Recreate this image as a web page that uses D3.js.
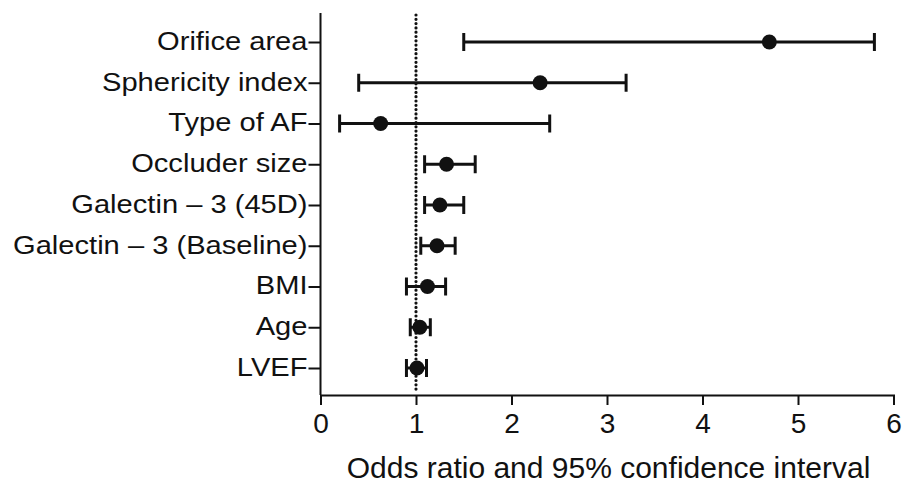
<!DOCTYPE html>
<html><head><meta charset="utf-8">
<script src="https://cdn.jsdelivr.net/npm/d3@7"></script>
<style>body{margin:0;background:#fff}svg{display:block}text{font-family:"Liberation Sans",Arial,sans-serif;fill:#111}</style>
</head><body>
<svg id="c" width="906" height="486"></svg>
<script>
const categories = ["Orifice area","Sphericity index","Type of AF","Occluder size","Galectin \u2013 3 (45D)","Galectin \u2013 3 (Baseline)","BMI","Age","LVEF"];
const oddsRatio = [4.7, 2.3, 0.63, 1.32, 1.25, 1.22, 1.12, 1.04, 1.01];
const ciLower   = [1.5, 0.4, 0.2, 1.09, 1.09, 1.05, 0.9, 0.94, 0.9];
const ciUpper   = [5.8, 3.2, 2.4, 1.62, 1.5, 1.41, 1.31, 1.15, 1.11];
const xTicks = [0,1,2,3,4,5,6];
const refValue = 1;
const xTitle = "Odds ratio and 95% confidence interval";

(function(){
const svg = d3.select("#c");
const mL = 320.5, mR = 893.5, mT = 13, mB = 395;
const x = d3.scaleLinear().domain([0,6]).range([mL, mR]);
const y = d3.scalePoint().domain(categories).range([42, 368]);
const ink = "#111";

// reference dotted line
svg.append("line").attr("x1", x(refValue)).attr("x2", x(refValue))
  .attr("y1", mT+2).attr("y2", mB-2)
  .attr("stroke", ink).attr("stroke-width", 3.2).attr("stroke-linecap","round")
  .attr("stroke-dasharray","0 4.3");

// x axis
const xAxis = svg.append("g").attr("transform",`translate(0,${mB})`)
  .call(d3.axisBottom(x).tickValues(xTicks).tickSize(10).tickPadding(8).tickFormat(d3.format("d")));
xAxis.select(".domain").attr("stroke", ink).attr("stroke-width", 2);
xAxis.selectAll(".tick line").attr("stroke", ink).attr("stroke-width", 2);
xAxis.selectAll("text").style("font-size","28px").attr("fill", ink);

// y axis
const yAxis = svg.append("g").attr("transform",`translate(${mL},0)`)
  .call(d3.axisLeft(y).tickSize(12).tickPadding(1));
yAxis.select(".domain").attr("d", `M0,${mT}V${mB}`).attr("stroke", ink).attr("stroke-width", 2);
yAxis.selectAll(".tick line").attr("stroke", ink).attr("stroke-width", 2);
yAxis.selectAll("text").style("font-size","26px").attr("fill", ink)
  .attr("x", 0).attr("dy", "0.28em").attr("transform", "translate(-13,0) scale(1.12,1)");

// error bars
const g = svg.append("g");
const rows = categories.map((c,i)=>({c, or:oddsRatio[i], lo:ciLower[i], hi:ciUpper[i]}));
g.selectAll("line.ci").data(rows).join("line").attr("class","ci")
  .attr("x1", d=>x(d.lo)).attr("x2", d=>x(d.hi)).attr("y1", d=>y(d.c)).attr("y2", d=>y(d.c))
  .attr("stroke", ink).attr("stroke-width", 3);
["lo","hi"].forEach(k=>{
  g.selectAll("line.cap"+k).data(rows).join("line").attr("class","cap"+k)
    .attr("x1", d=>x(d[k])).attr("x2", d=>x(d[k])).attr("y1", d=>y(d.c)-9).attr("y2", d=>y(d.c)+9)
    .attr("stroke", ink).attr("stroke-width", 3);
});
g.selectAll("circle").data(rows).join("circle")
  .attr("cx", d=>x(d.or)).attr("cy", d=>y(d.c)).attr("r", 7.5).attr("fill", ink);

// title
svg.append("text").attr("x", 608.5).attr("y", 478).attr("text-anchor","middle")
  .style("font-size","30px").text(xTitle);
})();
</script>
</body></html>
